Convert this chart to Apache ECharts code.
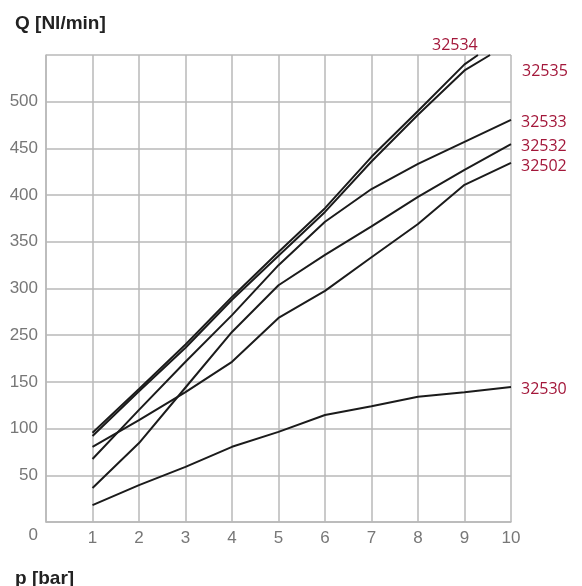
<!DOCTYPE html>
<html>
<head>
<meta charset="utf-8">
<script src="https://cdn.jsdelivr.net/npm/echarts@6/dist/echarts.min.js"></script>
<style>
  html, body { margin: 0; padding: 0; background: #fff; }
  #chart { width: 582px; height: 586px; }
</style>
</head>
<body>
<div id="chart"></div>
<script>
// values are in grid divisions (0..10), the printed y labels are not evenly spaced
var pBar = [1, 2, 3, 4, 5, 6, 7, 8, 9, 10];
var yTickLabels = ['0', '50', '100', '150', '250', '300', '350', '400', '450', '500', ''];

var s32534 = [1.91, 2.85, 3.80, 4.82, 5.78, 6.72, 7.82, 8.80, 9.80];
var s32535 = [1.84, 2.80, 3.73, 4.76, 5.70, 6.64, 7.72, 8.72, 9.67];
var top32534 = [9.29, 10];
var top32535 = [9.55, 10];
var s32533 = [1.35, 2.40, 3.43, 4.43, 5.50, 6.43, 7.13, 7.67, 8.14, 8.61];
var s32532 = [0.73, 1.69, 2.88, 4.07, 5.07, 5.72, 6.33, 6.96, 7.54, 8.09];
var s32502 = [1.61, 2.18, 2.78, 3.43, 4.37, 4.95, 5.67, 6.38, 7.22, 7.69];
var s32530 = [0.36, 0.79, 1.18, 1.61, 1.93, 2.29, 2.48, 2.68, 2.78, 2.89];

function pairs(vals, extra) {
    var out = [];
    for (var i = 0; i < vals.length; i++) {
        out.push([pBar[i], vals[i]]);
    }
    if (extra) out.push(extra);
    return out;
}

var gridColor = '#b8b8b8';
var red = '#a3173a';

function curve(name, data, offset) {
    return {
        name: name,
        type: 'line',
        data: data,
        symbol: 'none',
        lineStyle: { color: '#1b1b1b', width: 2 },
        endLabel: {
            show: true,
            formatter: name,
            color: red,
            fontFamily: 'Open Sans',
            fontSize: 16,
            position: 'right',
            distance: 0,
            offset: offset
        },
        animation: false
    };
}

var myChart = echarts.init(document.getElementById('chart'));

var option = {
    animation: false,
    grid: { left: 46, right: 71, top: 55, bottom: 64 },
    title: [{
        text: 'Q [Nl/min]',
        left: 10,
        top: 9,
        textStyle: { fontFamily: 'Liberation Sans', fontSize: 19, fontWeight: 'bold', color: '#222' }
    }, {
        text: 'p [bar]',
        left: 10,
        top: 564,
        textStyle: { fontFamily: 'Liberation Sans', fontSize: 19, fontWeight: 'bold', color: '#222' }
    }],
    xAxis: {
        type: 'value',
        min: 0,
        max: 10,
        interval: 1,
        axisLine: { show: true, lineStyle: { color: gridColor, width: 1.5 } },
        axisTick: { show: false },
        splitLine: { show: true, lineStyle: { color: gridColor, width: 1.5 } },
        axisLabel: {
            margin: 8,
            color: '#777',
            fontFamily: 'Liberation Sans',
            fontSize: 17,
            formatter: function (v) { return v === 0 ? '' : String(v); }
        }
    },
    yAxis: {
        type: 'value',
        min: 0,
        max: 10,
        interval: 1,
        axisLine: { show: true, lineStyle: { color: gridColor, width: 1.5 } },
        axisTick: { show: false },
        splitLine: { show: true, lineStyle: { color: gridColor, width: 1.5 } },
        axisLabel: {
            margin: 8,
            color: '#777',
            fontFamily: 'Liberation Sans',
            fontSize: 17,
            formatter: function (v) {
                if (v === 0) return '{zero|0}';
                return yTickLabels[v];
            },
            rich: {
                zero: { padding: [26, 0, 0, 0], color: '#777', fontFamily: 'Liberation Sans', fontSize: 17 }
            }
        }
    },
    series: [
        curve('32534', pairs(s32534, top32534), [-46, -10]),
        curve('32535', pairs(s32535, top32535), [32, 16]),
        curve('32533', pairs(s32533), [10, 3]),
        curve('32532', pairs(s32532), [10, 2]),
        curve('32502', pairs(s32502), [10, 4]),
        curve('32530', pairs(s32530), [10, 2])
    ]
};

myChart.setOption(option);
</script>
</body>
</html>
